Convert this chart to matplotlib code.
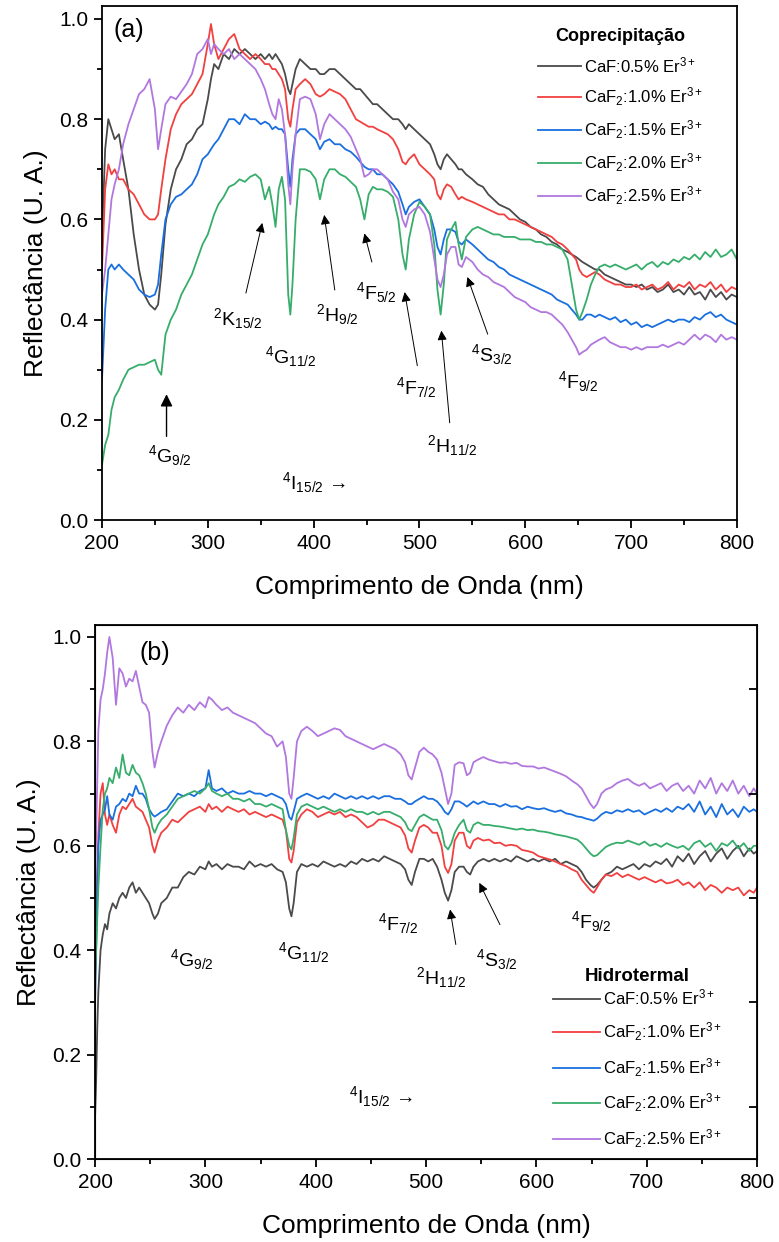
import matplotlib
matplotlib.use('Agg')
import matplotlib.pyplot as plt

plt.rcParams['font.family'] = ['Liberation Sans', 'DejaVu Sans']
plt.rcParams['mathtext.fontset'] = 'custom'
plt.rcParams['mathtext.rm'] = 'Liberation Sans'
plt.rcParams['mathtext.it'] = 'Liberation Sans:italic'
plt.rcParams['mathtext.bf'] = 'Liberation Sans:bold'

# ---------------- panel (a): Coprecipitacao ----------------
wl_a = [200, 203, 206, 209, 212, 216, 220, 225, 230, 235,
        240, 245, 250, 253, 256, 260, 265, 270, 275, 280,
        285, 290, 295, 300, 303, 306, 310, 315, 320, 325,
        330, 335, 340, 345, 350, 354, 358, 361, 364, 367,
        370, 373, 376, 378, 380, 383, 387, 392, 397, 402,
        406, 410, 415, 420, 425, 430, 435, 440, 444, 448,
        452, 456, 460, 465, 470, 475, 480, 484, 487, 490,
        495, 500, 505, 510, 514, 517, 520, 523, 526, 530,
        534, 537, 540, 544, 550, 555, 560, 565, 570, 575,
        580, 585, 590, 595, 600, 605, 610, 615, 620, 625,
        630, 635, 640, 644, 648, 651, 654, 658, 662, 666,
        670, 675, 680, 685, 690, 695, 700, 705, 710, 715,
        720, 725, 730, 735, 740, 745, 750, 755, 760, 765,
        770, 775, 780, 785, 790, 795, 800]

a_05 = [0.56, 0.74, 0.80, 0.78, 0.76, 0.77, 0.72, 0.66, 0.57, 0.50,
        0.45, 0.43, 0.42, 0.43, 0.49, 0.59, 0.66, 0.70, 0.72, 0.75,
        0.76, 0.78, 0.79, 0.84, 0.88, 0.91, 0.90, 0.93, 0.92, 0.94,
        0.93, 0.94, 0.93, 0.92, 0.93, 0.92, 0.93, 0.92, 0.93, 0.92,
        0.91, 0.89, 0.86, 0.85, 0.87, 0.90, 0.92, 0.91, 0.90, 0.90,
        0.89, 0.89, 0.90, 0.90, 0.89, 0.88, 0.87, 0.86, 0.86, 0.85,
        0.84, 0.83, 0.83, 0.82, 0.81, 0.80, 0.80, 0.79, 0.78, 0.79,
        0.78, 0.77, 0.76, 0.75, 0.73, 0.71, 0.70, 0.72, 0.73, 0.72,
        0.71, 0.70, 0.70, 0.69, 0.68, 0.67, 0.665, 0.65, 0.64, 0.63,
        0.625, 0.62, 0.61, 0.60, 0.595, 0.585, 0.58, 0.57, 0.565, 0.555,
        0.55, 0.54, 0.535, 0.53, 0.525, 0.52, 0.515, 0.51, 0.505, 0.50,
        0.50, 0.49, 0.485, 0.48, 0.475, 0.47, 0.47, 0.465, 0.47, 0.46,
        0.465, 0.455, 0.46, 0.47, 0.455, 0.46, 0.45, 0.465, 0.45, 0.455,
        0.44, 0.46, 0.445, 0.455, 0.44, 0.45, 0.445]

a_10 = [0.50, 0.66, 0.71, 0.69, 0.70, 0.68, 0.68, 0.66, 0.65, 0.63,
        0.61, 0.60, 0.60, 0.61, 0.66, 0.72, 0.78, 0.81, 0.83, 0.84,
        0.85, 0.87, 0.89, 0.95, 0.99, 0.95, 0.92, 0.94, 0.96, 0.97,
        0.94, 0.93, 0.92, 0.93, 0.92, 0.91, 0.91, 0.90, 0.90, 0.89,
        0.88, 0.86, 0.80, 0.785, 0.82, 0.86, 0.87, 0.88, 0.87, 0.85,
        0.845, 0.85, 0.86, 0.855, 0.85, 0.84, 0.82, 0.80, 0.795, 0.79,
        0.785, 0.785, 0.78, 0.775, 0.77, 0.76, 0.74, 0.715, 0.71, 0.72,
        0.73, 0.71, 0.70, 0.69, 0.68, 0.65, 0.64, 0.66, 0.67, 0.665,
        0.65, 0.64, 0.645, 0.64, 0.635, 0.63, 0.625, 0.62, 0.615, 0.61,
        0.61, 0.60, 0.60, 0.595, 0.59, 0.585, 0.58, 0.575, 0.57, 0.565,
        0.555, 0.55, 0.54, 0.53, 0.52, 0.50, 0.49, 0.485, 0.49, 0.495,
        0.49, 0.48, 0.475, 0.47, 0.47, 0.465, 0.465, 0.47, 0.46, 0.465,
        0.47, 0.46, 0.465, 0.475, 0.46, 0.47, 0.465, 0.475, 0.46, 0.47,
        0.465, 0.475, 0.46, 0.47, 0.455, 0.465, 0.46]

a_15 = [0.28, 0.42, 0.50, 0.51, 0.50, 0.51, 0.50, 0.49, 0.48, 0.46,
        0.45, 0.445, 0.45, 0.47, 0.53, 0.60, 0.63, 0.645, 0.65, 0.66,
        0.67, 0.69, 0.72, 0.73, 0.74, 0.75, 0.76, 0.78, 0.80, 0.80,
        0.79, 0.81, 0.80, 0.80, 0.79, 0.795, 0.79, 0.78, 0.785, 0.78,
        0.78, 0.77, 0.70, 0.665, 0.72, 0.77, 0.78, 0.78, 0.77, 0.76,
        0.74, 0.755, 0.76, 0.75, 0.75, 0.74, 0.735, 0.725, 0.715, 0.705,
        0.70, 0.70, 0.69, 0.69, 0.68, 0.67, 0.655, 0.63, 0.61, 0.625,
        0.635, 0.64, 0.625, 0.61, 0.58, 0.545, 0.53, 0.56, 0.58, 0.58,
        0.575, 0.555, 0.55, 0.56, 0.55, 0.54, 0.53, 0.52, 0.515, 0.505,
        0.50, 0.49, 0.485, 0.48, 0.475, 0.47, 0.465, 0.46, 0.455, 0.45,
        0.44, 0.435, 0.43, 0.42, 0.41, 0.40, 0.40, 0.41, 0.41, 0.405,
        0.41, 0.405, 0.40, 0.405, 0.395, 0.40, 0.39, 0.395, 0.385, 0.39,
        0.385, 0.39, 0.395, 0.40, 0.395, 0.40, 0.40, 0.395, 0.405, 0.40,
        0.41, 0.415, 0.405, 0.41, 0.40, 0.395, 0.39]

a_20 = [0.11, 0.15, 0.17, 0.22, 0.245, 0.26, 0.28, 0.30, 0.305, 0.31,
        0.31, 0.315, 0.32, 0.30, 0.29, 0.37, 0.40, 0.42, 0.45, 0.47,
        0.49, 0.52, 0.55, 0.57, 0.59, 0.61, 0.63, 0.645, 0.665, 0.67,
        0.68, 0.675, 0.685, 0.69, 0.68, 0.64, 0.665, 0.63, 0.585, 0.66,
        0.685, 0.64, 0.45, 0.41, 0.47, 0.60, 0.70, 0.70, 0.695, 0.68,
        0.64, 0.68, 0.70, 0.70, 0.69, 0.685, 0.675, 0.665, 0.64, 0.60,
        0.65, 0.665, 0.66, 0.66, 0.655, 0.645, 0.60, 0.53, 0.50, 0.56,
        0.61, 0.635, 0.625, 0.61, 0.55, 0.46, 0.41, 0.47, 0.56, 0.58,
        0.595, 0.55, 0.52, 0.565, 0.58, 0.585, 0.58, 0.575, 0.57, 0.57,
        0.565, 0.565, 0.565, 0.56, 0.56, 0.56, 0.555, 0.555, 0.55, 0.55,
        0.545, 0.54, 0.52, 0.47, 0.42, 0.40, 0.415, 0.44, 0.47, 0.49,
        0.505, 0.51, 0.505, 0.51, 0.505, 0.50, 0.505, 0.51, 0.50, 0.51,
        0.515, 0.505, 0.515, 0.51, 0.52, 0.515, 0.525, 0.52, 0.53, 0.52,
        0.535, 0.525, 0.54, 0.525, 0.53, 0.54, 0.52]

a_25 = [0.45, 0.50, 0.57, 0.64, 0.67, 0.70, 0.75, 0.79, 0.82, 0.85,
        0.86, 0.88, 0.82, 0.74, 0.78, 0.83, 0.845, 0.84, 0.855, 0.87,
        0.89, 0.93, 0.94, 0.96, 0.93, 0.95, 0.94, 0.93, 0.94, 0.92,
        0.93, 0.92, 0.91, 0.90, 0.88, 0.86, 0.83, 0.81, 0.80, 0.84,
        0.82, 0.77, 0.67, 0.63, 0.70, 0.77, 0.84, 0.845, 0.84, 0.81,
        0.76, 0.79, 0.81, 0.80, 0.79, 0.78, 0.765, 0.74, 0.72, 0.685,
        0.69, 0.70, 0.70, 0.69, 0.68, 0.655, 0.64, 0.60, 0.585, 0.61,
        0.62, 0.625, 0.61, 0.575, 0.52, 0.48, 0.465, 0.49, 0.53, 0.545,
        0.545, 0.51, 0.505, 0.525, 0.515, 0.50, 0.49, 0.485, 0.475, 0.47,
        0.465, 0.455, 0.445, 0.44, 0.435, 0.425, 0.42, 0.415, 0.415, 0.41,
        0.40, 0.39, 0.375, 0.36, 0.345, 0.33, 0.335, 0.34, 0.35, 0.355,
        0.36, 0.365, 0.355, 0.35, 0.345, 0.345, 0.34, 0.345, 0.34, 0.345,
        0.345, 0.345, 0.35, 0.345, 0.35, 0.355, 0.35, 0.36, 0.37, 0.36,
        0.37, 0.365, 0.355, 0.37, 0.36, 0.365, 0.36]

# ---------------- panel (b): Hidrotermal ----------------
wl_b = [200, 201, 202, 203, 205, 207, 209, 211, 213, 216,
        219, 222, 225, 228, 231, 234, 237, 240, 243, 246,
        249, 252, 254, 257, 260, 265, 270, 275, 280, 285,
        290, 295, 300, 303, 306, 310, 315, 320, 325, 330,
        335, 340, 345, 350, 355, 360, 365, 370, 373, 376,
        378, 380, 383, 387, 392, 397, 402, 407, 412, 417,
        422, 427, 432, 437, 442, 447, 452, 457, 462, 467,
        472, 477, 481, 484, 487, 490, 494, 498, 502, 506,
        510, 514, 517, 520, 523, 526, 530, 534, 537, 540,
        543, 547, 552, 557, 562, 567, 572, 577, 582, 587,
        592, 597, 602, 607, 612, 617, 622, 627, 632, 637,
        641, 645, 649, 652, 655, 659, 663, 668, 673, 678,
        683, 688, 693, 698, 703, 708, 713, 718, 723, 728,
        733, 738, 743, 748, 753, 758, 763, 768, 773, 778,
        783, 788, 793, 797, 800]

b_05 = [0.08, 0.15, 0.25, 0.32, 0.40, 0.43, 0.45, 0.44, 0.47, 0.49,
        0.48, 0.50, 0.51, 0.50, 0.52, 0.53, 0.51, 0.52, 0.51, 0.50,
        0.49, 0.47, 0.46, 0.47, 0.49, 0.50, 0.52, 0.52, 0.54, 0.55,
        0.545, 0.56, 0.555, 0.57, 0.56, 0.565, 0.555, 0.565, 0.56, 0.56,
        0.555, 0.57, 0.56, 0.565, 0.56, 0.565, 0.555, 0.55, 0.53, 0.48,
        0.465, 0.49, 0.55, 0.565, 0.56, 0.565, 0.56, 0.57, 0.565, 0.56,
        0.565, 0.56, 0.57, 0.565, 0.575, 0.57, 0.575, 0.57, 0.58, 0.575,
        0.57, 0.565, 0.555, 0.535, 0.525, 0.55, 0.575, 0.575, 0.57, 0.575,
        0.56, 0.535, 0.51, 0.495, 0.515, 0.55, 0.56, 0.56, 0.55, 0.545,
        0.56, 0.57, 0.575, 0.57, 0.575, 0.57, 0.575, 0.57, 0.58, 0.575,
        0.57, 0.575, 0.57, 0.575, 0.57, 0.575, 0.565, 0.57, 0.565, 0.56,
        0.55, 0.535, 0.525, 0.52, 0.525, 0.535, 0.545, 0.55, 0.56, 0.555,
        0.56, 0.565, 0.555, 0.565, 0.56, 0.57, 0.565, 0.575, 0.56, 0.58,
        0.57, 0.585, 0.565, 0.58, 0.59, 0.57, 0.585, 0.595, 0.575, 0.59,
        0.60, 0.58, 0.595, 0.585, 0.59]

b_10 = [0.35, 0.45, 0.55, 0.62, 0.70, 0.72, 0.66, 0.64, 0.66, 0.64,
        0.625, 0.66, 0.675, 0.67, 0.68, 0.69, 0.675, 0.67, 0.665, 0.65,
        0.635, 0.60, 0.587, 0.61, 0.625, 0.635, 0.65, 0.645, 0.655, 0.665,
        0.67, 0.675, 0.665, 0.68, 0.67, 0.675, 0.665, 0.675, 0.67, 0.665,
        0.67, 0.66, 0.665, 0.66, 0.655, 0.66, 0.655, 0.65, 0.63, 0.575,
        0.568, 0.59, 0.645, 0.66, 0.67, 0.665, 0.655, 0.66, 0.665, 0.66,
        0.665, 0.655, 0.66, 0.655, 0.645, 0.635, 0.64, 0.65, 0.65, 0.645,
        0.64, 0.635, 0.62, 0.595, 0.587, 0.61, 0.635, 0.64, 0.635, 0.625,
        0.625, 0.60, 0.56, 0.548, 0.565, 0.61, 0.625, 0.625, 0.60, 0.595,
        0.61, 0.615, 0.61, 0.612, 0.605, 0.606, 0.60, 0.602, 0.60, 0.592,
        0.59, 0.587, 0.58, 0.577, 0.574, 0.57, 0.565, 0.561, 0.555, 0.55,
        0.535, 0.525, 0.515, 0.51, 0.52, 0.535, 0.545, 0.542, 0.548, 0.54,
        0.545, 0.54, 0.535, 0.54, 0.535, 0.53, 0.535, 0.528, 0.53, 0.535,
        0.525, 0.53, 0.52, 0.53, 0.515, 0.525, 0.52, 0.51, 0.52, 0.515,
        0.52, 0.505, 0.515, 0.51, 0.52]

b_15 = [0.30, 0.40, 0.52, 0.60, 0.65, 0.66, 0.67, 0.695, 0.66, 0.65,
        0.675, 0.68, 0.69, 0.685, 0.70, 0.695, 0.715, 0.70, 0.70, 0.69,
        0.67, 0.66, 0.656, 0.66, 0.665, 0.67, 0.685, 0.70, 0.695, 0.70,
        0.695, 0.705, 0.71, 0.745, 0.71, 0.705, 0.71, 0.70, 0.705, 0.70,
        0.70, 0.705, 0.70, 0.70, 0.695, 0.70, 0.695, 0.69, 0.68, 0.655,
        0.65, 0.665, 0.69, 0.695, 0.70, 0.695, 0.69, 0.695, 0.69, 0.70,
        0.695, 0.69, 0.695, 0.69, 0.695, 0.69, 0.695, 0.69, 0.695, 0.695,
        0.69, 0.69, 0.685, 0.68, 0.68, 0.685, 0.69, 0.695, 0.69, 0.69,
        0.685, 0.675, 0.665, 0.66, 0.67, 0.685, 0.685, 0.68, 0.675, 0.68,
        0.685, 0.68, 0.685, 0.68, 0.68, 0.675, 0.68, 0.675, 0.676, 0.67,
        0.675, 0.672, 0.67, 0.672, 0.668, 0.665, 0.668, 0.662, 0.66, 0.656,
        0.655, 0.652, 0.65, 0.648, 0.652, 0.66, 0.665, 0.662, 0.668, 0.665,
        0.67, 0.665, 0.668, 0.66, 0.665, 0.67, 0.665, 0.672, 0.665, 0.675,
        0.67, 0.68, 0.665, 0.685, 0.66, 0.675, 0.655, 0.68, 0.66, 0.67,
        0.655, 0.675, 0.665, 0.67, 0.665]

b_20 = [0.35, 0.40, 0.46, 0.52, 0.60, 0.67, 0.70, 0.71, 0.73, 0.72,
        0.75, 0.73, 0.775, 0.74, 0.735, 0.755, 0.74, 0.735, 0.72, 0.70,
        0.67, 0.635, 0.625, 0.64, 0.65, 0.66, 0.675, 0.69, 0.695, 0.70,
        0.705, 0.70, 0.71, 0.72, 0.705, 0.70, 0.695, 0.70, 0.69, 0.69,
        0.685, 0.69, 0.68, 0.68, 0.675, 0.68, 0.675, 0.67, 0.63, 0.60,
        0.593, 0.615, 0.66, 0.675, 0.68, 0.675, 0.67, 0.675, 0.67, 0.665,
        0.67, 0.665, 0.67, 0.665, 0.665, 0.66, 0.665, 0.66, 0.665, 0.665,
        0.66, 0.655, 0.645, 0.632, 0.628, 0.64, 0.655, 0.66, 0.655, 0.65,
        0.65, 0.63, 0.60, 0.593, 0.605, 0.625, 0.64, 0.65, 0.63, 0.625,
        0.64, 0.645, 0.64, 0.64, 0.638, 0.637, 0.635, 0.633, 0.631, 0.633,
        0.63, 0.631, 0.628, 0.627, 0.625, 0.622, 0.62, 0.618, 0.615, 0.612,
        0.605, 0.595, 0.585, 0.58, 0.582, 0.59, 0.598, 0.603, 0.606, 0.605,
        0.61, 0.606, 0.602, 0.608, 0.60, 0.604, 0.598, 0.605, 0.60, 0.596,
        0.60, 0.592, 0.605, 0.61, 0.598, 0.605, 0.59, 0.605, 0.60, 0.61,
        0.595, 0.605, 0.59, 0.60, 0.60]

b_25 = [0.55, 0.62, 0.72, 0.82, 0.88, 0.90, 0.93, 0.97, 1.00, 0.96,
        0.87, 0.94, 0.93, 0.905, 0.92, 0.915, 0.935, 0.905, 0.875, 0.87,
        0.855, 0.78, 0.75, 0.78, 0.80, 0.83, 0.85, 0.865, 0.855, 0.87,
        0.86, 0.875, 0.865, 0.885, 0.88, 0.87, 0.86, 0.865, 0.855, 0.85,
        0.845, 0.84, 0.835, 0.825, 0.815, 0.81, 0.79, 0.80, 0.77, 0.70,
        0.69, 0.73, 0.80, 0.82, 0.828, 0.82, 0.81, 0.815, 0.82, 0.825,
        0.822, 0.81, 0.805, 0.80, 0.795, 0.79, 0.785, 0.79, 0.795, 0.79,
        0.785, 0.775, 0.76, 0.735, 0.727, 0.75, 0.78, 0.788, 0.78, 0.775,
        0.765, 0.74, 0.71, 0.68, 0.70, 0.755, 0.76, 0.758, 0.735, 0.74,
        0.76, 0.765, 0.77, 0.765, 0.762, 0.759, 0.76, 0.757, 0.759, 0.753,
        0.752, 0.752, 0.748, 0.75, 0.746, 0.742, 0.738, 0.733, 0.725, 0.718,
        0.71, 0.695, 0.68, 0.672, 0.68, 0.70, 0.708, 0.712, 0.72, 0.725,
        0.728, 0.72, 0.715, 0.72, 0.71, 0.715, 0.72, 0.705, 0.715, 0.72,
        0.705, 0.715, 0.70, 0.725, 0.71, 0.73, 0.70, 0.72, 0.705, 0.725,
        0.70, 0.715, 0.695, 0.71, 0.70]

colors = ['#4a4a4a', '#F14040', '#1A6FDF', '#37AD6B', '#B177DE']
labels = ['CaF:0.5% Er$^{3+}$', 'CaF$_2$:1.0% Er$^{3+}$', 'CaF$_2$:1.5% Er$^{3+}$',
          'CaF$_2$:2.0% Er$^{3+}$', 'CaF$_2$:2.5% Er$^{3+}$']

fig = plt.figure(figsize=(7.79, 12.42), dpi=100)
ax_a = fig.add_axes([0.1309, 0.5813, 0.8151, 0.4139])
ax_b = fig.add_axes([0.1220, 0.0668, 0.8498, 0.4300])


def style(ax, ymax):
    ax.set_xlim(200, 800)
    ax.set_ylim(0, ymax)
    ax.set_xticks([200, 300, 400, 500, 600, 700, 800])
    ax.set_xticks([250, 350, 450, 550, 650, 750], minor=True)
    ax.set_yticks([0.0, 0.2, 0.4, 0.6, 0.8, 1.0])
    ax.set_yticks([0.1, 0.3, 0.5, 0.7, 0.9], minor=True)
    ax.tick_params(which='major', direction='out', length=6, width=1.3, labelsize=15, pad=4)
    ax.tick_params(which='minor', direction='out', length=3.5, width=1.3)
    for s in ax.spines.values():
        s.set_linewidth(1.3)
    ax.set_xlabel('Comprimento de Onda (nm)', fontsize=19, labelpad=16)
    ax.set_ylabel('Reflectância (U. A.)', fontsize=19, labelpad=8)


for ys, c, lab in zip([a_05, a_10, a_15, a_20, a_25], colors, labels):
    ax_a.plot(wl_a, ys, color=c, lw=1.3, label=lab)
style(ax_a, 1.026)

for ys, c, lab in zip([b_05, b_10, b_15, b_20, b_25], colors, labels):
    ax_b.plot(wl_b, ys, color=c, lw=1.3, label=lab)
style(ax_b, 1.023)

# right-side inner ticks on panel (b)
ax_r = ax_b.twinx()
ax_r.set_ylim(0, 1.023)
ax_r.set_yticks([0.1, 0.3, 0.5, 0.7, 0.9])
ax_r.tick_params(direction='in', length=6, width=1.3, labelright=False)

leg_a = ax_a.legend(loc='upper left', bbox_to_anchor=(0.686, 0.957), frameon=False,
                    title='Coprecipitação', title_fontproperties={'weight': 'bold', 'size': 13},
                    fontsize=12, handlelength=2.6, handletextpad=0.2, labelspacing=0.62,
                    borderpad=0, borderaxespad=0)
leg_b = ax_b.legend(loc='upper left', bbox_to_anchor=(0.692, 0.358), frameon=False,
                    title='Hidrotermal', title_fontproperties={'weight': 'bold', 'size': 13.5},
                    fontsize=12, handlelength=2.8, handletextpad=0.2, labelspacing=0.78,
                    borderpad=0, borderaxespad=0)
leg_b._legend_box.sep = 2

arrow = dict(arrowstyle='-|>', color='black', lw=0.7, mutation_scale=14, shrinkA=0, shrinkB=0)
fs = 14

# panel (a) labels
ax_a.text(225, 0.978, '(a)', fontsize=18, ha='center', va='center')
ax_a.text(264, 0.128, '$^{4}$G$_{9/2}$', fontsize=fs, ha='center', va='center')
ax_a.text(328, 0.402, '$^{2}$K$_{15/2}$', fontsize=fs, ha='center', va='center')
ax_a.text(378, 0.326, '$^{4}$G$_{11/2}$', fontsize=fs, ha='center', va='center')
ax_a.text(422, 0.41, '$^{2}$H$_{9/2}$', fontsize=fs, ha='center', va='center')
ax_a.text(459, 0.455, '$^{4}$F$_{5/2}$', fontsize=fs, ha='center', va='center')
ax_a.text(497, 0.264, '$^{4}$F$_{7/2}$', fontsize=fs, ha='center', va='center')
ax_a.text(531, 0.148, '$^{2}$H$_{11/2}$', fontsize=fs, ha='center', va='center')
ax_a.text(568, 0.331, '$^{4}$S$_{3/2}$', fontsize=fs, ha='center', va='center')
ax_a.text(650, 0.277, '$^{4}$F$_{9/2}$', fontsize=fs, ha='center', va='center')
ax_a.text(400, 0.074, '$^{4}$I$_{15/2}$ →', fontsize=fs, ha='center', va='center')

ax_a.annotate('', xy=(261, 0.251), xytext=(261, 0.167),
              arrowprops=dict(arrowstyle='-|>', color='black', lw=1.0, mutation_scale=18,
                              shrinkA=0, shrinkB=0))
ax_a.annotate('', xy=(351.5, 0.593), xytext=(336, 0.453), arrowprops=arrow)
ax_a.annotate('', xy=(410, 0.609), xytext=(420, 0.459), arrowprops=arrow)
ax_a.annotate('', xy=(448, 0.572), xytext=(455, 0.515), arrowprops=arrow)
ax_a.annotate('', xy=(486, 0.455), xytext=(498, 0.308), arrowprops=arrow)
ax_a.annotate('', xy=(520.7, 0.378), xytext=(528.6, 0.194), arrowprops=arrow)
ax_a.annotate('', xy=(545.3, 0.485), xytext=(564.5, 0.371), arrowprops=arrow)

# panel (b) labels
ax_b.text(254, 0.969, '(b)', fontsize=18, ha='center', va='center')
ax_b.text(288, 0.383, '$^{4}$G$_{9/2}$', fontsize=fs, ha='center', va='center')
ax_b.text(389, 0.395, '$^{4}$G$_{11/2}$', fontsize=fs, ha='center', va='center')
ax_b.text(475, 0.452, '$^{4}$F$_{7/2}$', fontsize=fs, ha='center', va='center')
ax_b.text(514, 0.347, '$^{2}$H$_{11/2}$', fontsize=fs, ha='center', va='center')
ax_b.text(564, 0.382, '$^{4}$S$_{3/2}$', fontsize=fs, ha='center', va='center')
ax_b.text(650, 0.455, '$^{4}$F$_{9/2}$', fontsize=fs, ha='center', va='center')
ax_b.text(459, 0.119, '$^{4}$I$_{15/2}$ →', fontsize=fs, ha='center', va='center')

ax_b.annotate('', xy=(521.8, 0.478), xytext=(527, 0.411), arrowprops=arrow)
ax_b.annotate('', xy=(548.3, 0.529), xytext=(567, 0.449), arrowprops=arrow)

fig.savefig('out.png', dpi=100)
